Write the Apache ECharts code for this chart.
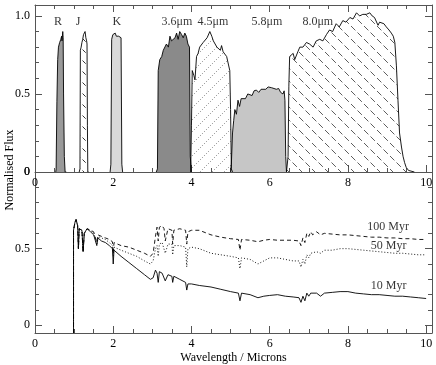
<!DOCTYPE html>
<html>
<head>
<meta charset="utf-8">
<script src="https://cdn.jsdelivr.net/npm/echarts@6/dist/echarts.min.js"></script>
<style>
  html, body { margin: 0; padding: 0; background: #fff; }
  #chart { width: 436px; height: 365px; }
</style>
</head>
<body>
<div id="chart"></div>
<script>
// ---- top panel: filter profiles (normalised) ----
const rWave = [0.53, 0.54, 0.56, 0.58, 0.6, 0.63, 0.66, 0.68, 0.69, 0.71, 0.72, 0.73, 0.75, 0.77, 0.8];
const rFlux = [0, 0.02, 0.45, 0.72, 0.8, 0.83, 0.85, 0.87, 0.84, 0.9, 0.86, 0.5, 0.1, 0, 0];

const jWave = [1.13, 1.15, 1.16, 1.18, 1.2, 1.22, 1.24, 1.26, 1.28, 1.3, 1.32, 1.33, 1.34, 1.35, 1.37];
const jFlux = [0, 0.02, 0.78, 0.8, 0.83, 0.85, 0.88, 0.87, 0.9, 0.86, 0.84, 0.82, 0.3, 0, 0];

const kWave = [1.92, 1.94, 1.96, 1.99, 2.02, 2.05, 2.08, 2.11, 2.14, 2.17, 2.2, 2.22, 2.24];
const kFlux = [0, 0.05, 0.85, 0.88, 0.87, 0.89, 0.87, 0.88, 0.87, 0.88, 0.86, 0.05, 0];

const wave36 = [3.1, 3.13, 3.15, 3.19, 3.24, 3.28, 3.32, 3.36, 3.41, 3.45, 3.49, 3.53, 3.58, 3.62, 3.66, 3.7, 3.75, 3.79, 3.83, 3.87, 3.91, 3.95, 3.97, 4.0];
const flux36 = [0, 0.02, 0.65, 0.72, 0.74, 0.78, 0.77, 0.82, 0.8, 0.87, 0.84, 0.84, 0.86, 0.89, 0.85, 0.9, 0.88, 0.86, 0.89, 0.87, 0.82, 0.8, 0.1, 0];

const wave45 = [3.98, 4.0, 4.02, 4.06, 4.09, 4.13, 4.17, 4.21, 4.26, 4.3, 4.35, 4.4, 4.47, 4.52, 4.56, 4.6, 4.65, 4.7, 4.74, 4.77, 4.81, 4.85, 4.9, 4.94, 4.98, 5.0, 5.02, 5.05];
const flux45 = [0, 0.3, 0.65, 0.62, 0.59, 0.74, 0.76, 0.8, 0.79, 0.83, 0.82, 0.86, 0.9, 0.87, 0.84, 0.83, 0.8, 0.79, 0.78, 0.81, 0.77, 0.76, 0.74, 0.73, 0.65, 0.4, 0.02, 0];

const wave58 = [5.0, 5.02, 5.05, 5.08, 5.11, 5.15, 5.19, 5.23, 5.27, 5.32, 5.38, 5.44, 5.49, 5.55, 5.6, 5.66, 5.72, 5.78, 5.83, 5.9, 5.96, 6.0, 6.05, 6.1, 6.17, 6.23, 6.28, 6.3, 6.34, 6.37, 6.39, 6.41, 6.43];
const flux58 = [0, 0.05, 0.25, 0.33, 0.4, 0.37, 0.46, 0.42, 0.47, 0.48, 0.47, 0.5, 0.5, 0.49, 0.52, 0.525, 0.51, 0.53, 0.54, 0.53, 0.545, 0.55, 0.54, 0.545, 0.53, 0.535, 0.51, 0.52, 0.5, 0.52, 0.46, 0.1, 0];

const wave80 = [6.43, 6.47, 6.49, 6.51, 6.55, 6.6, 6.64, 6.68, 6.72, 6.77, 6.85, 6.94, 7.02, 7.11, 7.19, 7.28, 7.36, 7.45, 7.53, 7.61, 7.7, 7.78, 7.87, 7.95, 8.05, 8.13, 8.22, 8.3, 8.38, 8.47, 8.56, 8.62, 8.68, 8.73, 8.77, 8.81, 8.85, 8.92, 8.98, 9.05, 9.11, 9.16, 9.2, 9.24, 9.28, 9.32, 9.37, 9.41, 9.45, 9.49, 9.55, 9.6, 9.7];
const flux80 = [0, 0.1, 0.55, 0.74, 0.73, 0.76, 0.72, 0.72, 0.77, 0.8, 0.8, 0.83, 0.82, 0.8, 0.84, 0.85, 0.84, 0.88, 0.91, 0.9, 0.95, 0.93, 0.97, 0.96, 0.99, 0.98, 1.02, 1.0, 1.01, 1.01, 1.02, 1.0, 0.99, 0.98, 0.94, 0.96, 0.97, 0.95, 0.93, 0.91, 0.89, 0.87, 0.83, 0.68, 0.46, 0.25, 0.16, 0.1, 0.06, 0.03, 0.01, 0, 0];

const bandNames = ['R', 'J', 'K', '3.6\u03bcm', '4.5\u03bcm', '5.8\u03bcm', '8.0\u03bcm'];
const bandLabelX = [0.59, 1.1, 2.09, 3.63, 4.55, 5.93, 7.23];
const bandLabelY = [0.965, 0.965, 0.965, 0.965, 0.965, 0.965, 0.965];

// ---- bottom panel: model spectra ----
const specWave = [0.985, 0.985, 1.02, 1.05, 1.09, 1.11, 1.13, 1.2, 1.23, 1.26, 1.33, 1.42, 1.5, 1.55, 1.58, 1.61, 1.7, 1.8, 1.9, 1.98, 2.0, 2.02, 2.2, 2.4, 2.6, 2.8, 2.95, 3.02, 3.08, 3.12, 3.15, 3.18, 3.25, 3.3, 3.33, 3.4, 3.5, 3.52, 3.55, 3.7, 3.85, 3.88, 3.91, 4.0, 4.2, 4.5, 4.75, 5.0, 5.2, 5.24, 5.28, 5.5, 5.7, 5.75, 5.85, 6.0, 6.2, 6.4, 6.6, 6.75, 6.8, 6.85, 6.9, 6.95, 7.0, 7.05, 7.1, 7.2, 7.3, 7.4, 7.6, 7.8, 8.0, 8.2, 8.4, 8.6, 8.8, 9.0, 9.2, 9.4, 9.6, 9.8, 10.0];
const flux10 = [-0.05, 0.62, 0.67, 0.69, 0.65, 0.5, 0.63, 0.62, 0.48, 0.6, 0.63, 0.61, 0.59, 0.58, 0.52, 0.57, 0.55, 0.54, 0.52, 0.5, 0.4, 0.49, 0.45, 0.41, 0.37, 0.33, 0.3, 0.31, 0.36, 0.34, 0.28, 0.35, 0.34, 0.35, 0.29, 0.33, 0.32, 0.28, 0.32, 0.3, 0.28, 0.23, 0.27, 0.27, 0.26, 0.25, 0.235, 0.22, 0.21, 0.16, 0.21, 0.2, 0.18, 0.18, 0.19, 0.195, 0.2, 0.19, 0.185, 0.18, 0.15, 0.19, 0.16, 0.21, 0.19, 0.21, 0.2, 0.21, 0.19, 0.21, 0.215, 0.22, 0.22, 0.21, 0.205, 0.2, 0.2, 0.195, 0.19, 0.19, 0.185, 0.18, 0.175];
const flux50 = [-0.05, 0.62, 0.67, 0.69, 0.65, 0.5, 0.63, 0.62, 0.48, 0.6, 0.63, 0.62, 0.6, 0.59, 0.53, 0.58, 0.57, 0.56, 0.54, 0.52, 0.45, 0.51, 0.49, 0.47, 0.45, 0.42, 0.4, 0.42, 0.5, 0.52, 0.45, 0.53, 0.54, 0.55, 0.47, 0.53, 0.53, 0.46, 0.52, 0.52, 0.51, 0.38, 0.5, 0.51, 0.5, 0.47, 0.46, 0.45, 0.44, 0.37, 0.44, 0.43, 0.4, 0.41, 0.42, 0.44, 0.44, 0.43, 0.42, 0.42, 0.38, 0.43, 0.4, 0.46, 0.44, 0.47, 0.46, 0.48, 0.47, 0.49, 0.49, 0.5, 0.5, 0.495, 0.49, 0.485, 0.48, 0.475, 0.47, 0.47, 0.465, 0.46, 0.46];
const flux100 = [-0.05, 0.62, 0.67, 0.69, 0.65, 0.5, 0.63, 0.62, 0.48, 0.6, 0.63, 0.62, 0.61, 0.6, 0.54, 0.59, 0.58, 0.57, 0.56, 0.545, 0.47, 0.54, 0.52, 0.51, 0.49, 0.47, 0.45, 0.47, 0.58, 0.64, 0.55, 0.64, 0.65, 0.63, 0.55, 0.63, 0.62, 0.53, 0.62, 0.63, 0.62, 0.53, 0.61, 0.62, 0.62, 0.59, 0.575, 0.565, 0.56, 0.49, 0.56, 0.555, 0.545, 0.55, 0.555, 0.56, 0.555, 0.555, 0.555, 0.55, 0.52, 0.57, 0.54, 0.6, 0.58, 0.61, 0.59, 0.61, 0.59, 0.6, 0.595, 0.59, 0.59, 0.585, 0.58, 0.575, 0.575, 0.57, 0.57, 0.565, 0.565, 0.56, 0.56];

const ageNames = ['10 Myr', '50 Myr', '100 Myr'];
const ageLabelX = [9.04, 9.04, 9.03];
const ageLabelY = [0.255, 0.52, 0.64];

// ---- tick positions ----
const xMajor = [0, 2, 4, 6, 8, 10];
const xMinor = [0.5, 1, 1.5, 2.5, 3, 3.5, 4.5, 5, 5.5, 6.5, 7, 7.5, 8.5, 9, 9.5];
const topYMajor = [0, 0.5, 1.0];
const botYMajor = [0, 0.5];
const yMinor = [0.1, 0.2, 0.3, 0.4, 0.6, 0.7, 0.8, 0.9];

const FONT = 'Liberation Serif';
const AX = '#555';

function zip(xs, ys) {
  return xs.map((x, i) => [x, ys[i]]);
}

// diagonal hatch tile for the white filters
function hatch(size, dir, color, dash, width) {
  const c = document.createElement('canvas');
  c.width = size;
  c.height = size;
  const g = c.getContext('2d');
  g.strokeStyle = color;
  g.lineWidth = width;
  g.setLineDash(dash);
  for (const off of [-size, 0, size]) {
    g.beginPath();
    if (dir === 'down') {
      g.moveTo(off, 0);
      g.lineTo(off + size, size);
    } else {
      g.moveTo(off, size);
      g.lineTo(off + size, 0);
    }
    g.stroke();
  }
  return { image: c, repeat: 'repeat' };
}

function xAx(grid, pos, ticks, len, labels, extra) {
  return Object.assign({
    type: 'value', gridIndex: grid, position: pos, min: 0, max: 10.15,
    axisLine: { show: len > 5, onZero: false, lineStyle: { color: AX, width: 1 } },
    axisTick: { show: true, inside: true, length: len, customValues: ticks, lineStyle: { color: AX, width: 1 } },
    axisLabel: {
      show: !!labels, customValues: ticks, margin: 5,
      color: '#000', fontFamily: FONT, fontSize: 12,
      formatter: v => String(v)
    },
    splitLine: { show: false }
  }, extra || {});
}

function yAx(grid, pos, min, max, ticks, len, labels) {
  return {
    type: 'value', gridIndex: grid, position: pos, min: min, max: max,
    axisLine: { show: len > 5, onZero: false, lineStyle: { color: AX, width: 1 } },
    axisTick: { show: true, inside: true, length: len, customValues: ticks, lineStyle: { color: AX, width: 1 } },
    axisLabel: {
      show: !!labels, customValues: ticks, margin: 5,
      color: '#000', fontFamily: FONT, fontSize: 12,
      formatter: v => (v === 0 ? '0' : v.toFixed(1))
    },
    splitLine: { show: false }
  };
}

function band(wave, flux, fill) {
  return {
    type: 'line', xAxisIndex: 0, yAxisIndex: 0,
    data: zip(wave, flux), symbol: 'none', silent: true,
    lineStyle: { color: '#000', width: 0.9 },
    areaStyle: { color: fill, opacity: 1, origin: 0 }
  };
}

function spectrum(flux, dash) {
  return {
    type: 'line', xAxisIndex: 4, yAxisIndex: 4,
    data: zip(specWave, flux), symbol: 'none', silent: true,
    lineStyle: { color: '#000', width: 0.9, type: dash }
  };
}

function labels(xIdx, yIdx, xs, ys, names) {
  return {
    type: 'scatter', xAxisIndex: xIdx, yAxisIndex: yIdx, silent: true,
    symbolSize: 1, itemStyle: { color: 'rgba(0,0,0,0)' },
    data: xs.map((x, i) => [x, ys[i], names[i]]),
    label: {
      show: true, position: 'inside', formatter: p => p.value[2],
      color: '#000', fontFamily: FONT, fontSize: 12
    }
  };
}

const chart = echarts.init(document.getElementById('chart'));
chart.setOption({
  animation: false,
  backgroundColor: '#fff',
  grid: [
    { left: 35, top: 5, width: 397, height: 167 },
    { left: 35, top: 172, width: 397, height: 164 }
  ],
  xAxis: [
    xAx(0, 'bottom', xMajor, 7, true),
    xAx(0, 'bottom', xMinor, 4, false),
    xAx(0, 'top', xMajor, 7, false),
    xAx(0, 'top', xMinor, 4, false),
    xAx(1, 'bottom', xMajor, 7, true, {
      name: 'Wavelength / Microns', nameLocation: 'middle', nameGap: 19,
      nameTextStyle: { color: '#000', fontFamily: FONT, fontSize: 12 }
    }),
    xAx(1, 'bottom', xMinor, 4, false)
  ],
  yAxis: [
    yAx(0, 'left', 0, 1.07, topYMajor, 7, true),
    yAx(0, 'left', 0, 1.07, yMinor, 4, false),
    yAx(0, 'right', 0, 1.07, topYMajor, 7, false),
    yAx(0, 'right', 0, 1.07, yMinor, 4, false),
    yAx(1, 'left', -0.05, 1.0, botYMajor, 7, true),
    yAx(1, 'left', -0.05, 1.0, yMinor, 4, false),
    yAx(1, 'right', -0.05, 1.0, botYMajor, 7, false),
    yAx(1, 'right', -0.05, 1.0, yMinor, 4, false)
  ],
  series: [
    band(rWave, rFlux, '#9a9a9a'),
    band(jWave, jFlux, hatch(11, 'down', '#000', [4.5, 3.28], 0.8)),
    band(kWave, kFlux, '#d9d9d9'),
    band(wave36, flux36, '#8a8a8a'),
    band(wave45, flux45, hatch(12, 'up', '#777', [1.2, 1.63], 0.8)),
    band(wave58, flux58, '#c6c6c6'),
    band(wave80, flux80, hatch(13, 'down', '#333', [6.2, 3], 0.8)),
    labels(0, 0, bandLabelX, bandLabelY, bandNames),
    spectrum(flux10, 'solid'),
    spectrum(flux50, [1, 2]),
    spectrum(flux100, [4, 3]),
    labels(4, 4, ageLabelX, ageLabelY, ageNames)
  ]
});

// y title, and the top panel's "0" label (dropped by the axis where it meets the x labels)
const origin = chart.convertToPixel({ xAxisIndex: 0, yAxisIndex: 0 }, [0, 0]);
chart.setOption({
  graphic: [
    {
      type: 'text', x: 10, y: 170, rotation: Math.PI / 2,
      style: {
        text: 'Normalised Flux', fill: '#000', font: '12px "Liberation Serif"',
        textAlign: 'center', textVerticalAlign: 'middle'
      }
    },
    {
      type: 'text', x: origin[0] - 5, y: origin[1],
      style: {
        text: '0', fill: '#000', font: '12px "Liberation Serif"',
        textAlign: 'right', textVerticalAlign: 'middle'
      }
    }
  ]
});
</script>
</body>
</html>
